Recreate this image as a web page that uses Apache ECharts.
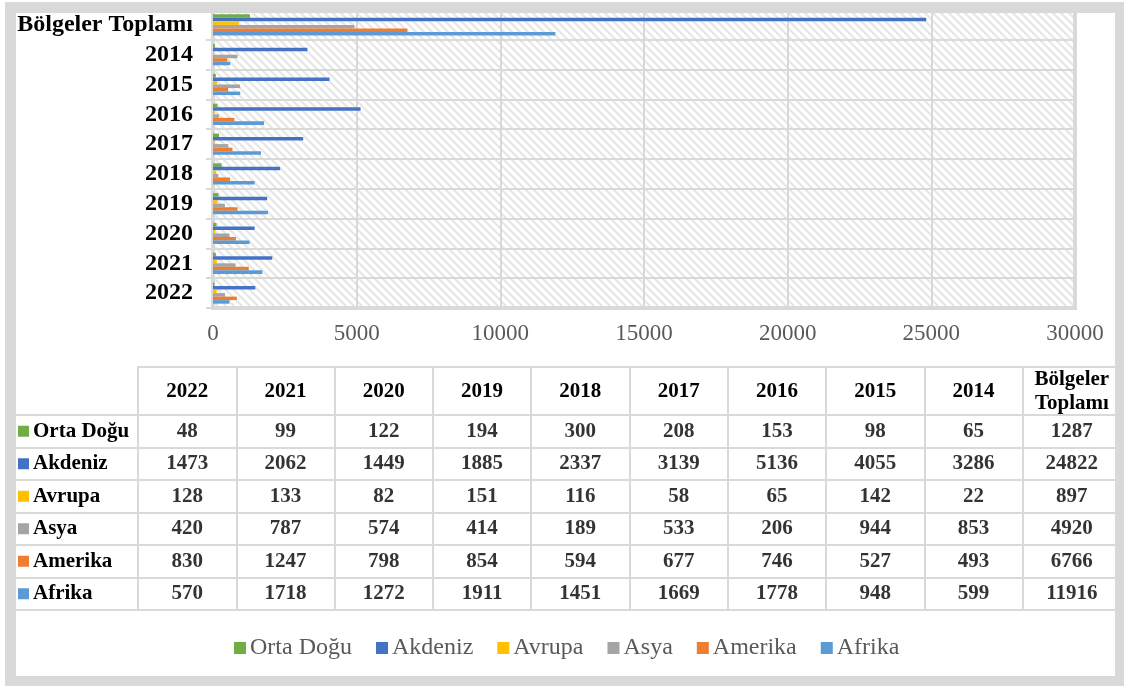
<!DOCTYPE html>
<html><head><meta charset="utf-8">
<script src="https://cdn.jsdelivr.net/npm/echarts@6/dist/echarts.min.js"></script>
<style>html,body{margin:0;padding:0;background:#fff}#c{width:1124px;height:686px}</style>
</head><body><div id="c"></div>
<script>
// Categories (bottom to top in chart; left to right in table)
const categories = ['2022','2021','2020','2019','2018','2017','2016','2015','2014','Bölgeler Toplamı'];
const tableHeaders = ['2022','2021','2020','2019','2018','2017','2016','2015','2014','Bölgeler\nToplamı'];
const seriesNames = ['Orta Doğu','Akdeniz','Avrupa','Asya','Amerika','Afrika'];
const ortaDogu = [48,99,122,194,300,208,153,98,65,1287];
const akdeniz  = [1473,2062,1449,1885,2337,3139,5136,4055,3286,24822];
const avrupa   = [128,133,82,151,116,58,65,142,22,897];
const asya     = [420,787,574,414,189,533,206,944,853,4920];
const amerika  = [830,1247,798,854,594,677,746,527,493,6766];
const afrika   = [570,1718,1272,1911,1451,1669,1778,948,599,11916];
const xMin = 0, xMax = 30000, xStep = 5000;

const colors = ['#70AD47','#4472C4','#FFC000','#A5A5A5','#ED7D31','#5B9BD5'];
const seriesData = [ortaDogu, akdeniz, avrupa, asya, amerika, afrika];
const FONT = 'Liberation Serif';
const GRID = '#d9d9d9';

// hatch pattern
const pc = document.createElement('canvas');
pc.width = 8; pc.height = 8;
const g = pc.getContext('2d');
g.fillStyle = '#fff'; g.fillRect(0,0,8,8);
g.strokeStyle = '#e6e6e6'; g.lineWidth = 2.2;
g.beginPath(); g.moveTo(-2,-2); g.lineTo(10,10); g.stroke();
g.beginPath(); g.moveTo(-10,-2); g.lineTo(2,10); g.stroke();
g.beginPath(); g.moveTo(6,-2); g.lineTo(18,10); g.stroke();

const rich = { name: { fontFamily: FONT, fontWeight: 'bold', fontSize: 21, color: '#000', padding: [0,0,0,4] } };
seriesNames.forEach((n,i)=>{ rich['sq'+i] = { backgroundColor: colors[i], width: 11, height: 11 }; });

const tableData = [];
seriesData.forEach((arr,r)=>arr.forEach((v,c)=>tableData.push([c, r, v])));

const barSeries = seriesNames.map((n,i)=>({
  name: n, type: 'bar', xAxisIndex: 0, yAxisIndex: 0,
  data: seriesData[i], itemStyle: { color: colors[i] },
  barGap: '0%', barCategoryGap: '29%', silent: true
}));

const chart = echarts.init(document.getElementById('c'), null, {renderer: 'canvas'});
chart.setOption({
  animation: false,
  textStyle: { fontFamily: FONT },
  legend: {
    data: seriesNames, left: 229, top: 631, icon: 'rect', itemWidth: 12, itemHeight: 12,
    itemGap: 24, textStyle: { fontFamily: FONT, fontSize: 24, color: '#595959', padding: [0,0,0,-1] }
  },
  grid: [
    { left: 213, right: 49, top: 10, bottom: 378, show: true, backgroundColor: { image: pc, repeat: 'repeat' }, borderColor: GRID, borderWidth: 4 },
    { left: 138, right: 3, top: 415, bottom: 76, show: true, backgroundColor: 'transparent', borderColor: GRID, borderWidth: 2 }
  ],
  xAxis: [
    { gridIndex: 0, type: 'value', min: xMin, max: xMax, interval: xStep,
      axisLine: { show: false }, axisTick: { show: false },
      axisLabel: { fontFamily: FONT, fontSize: 23, color: '#595959', margin: 14, formatter: v => String(v) },
      splitLine: { show: true, lineStyle: { color: GRID, width: 2 } } },
    { gridIndex: 1, type: 'category', data: tableHeaders, position: 'top',
      axisLine: { show: true, lineStyle: { color: GRID, width: 2 } },
      axisTick: { show: true, length: 48, lineStyle: { color: GRID, width: 2 } },
      axisLabel: { interval: 0, fontFamily: FONT, fontSize: 21, fontWeight: 'bold', color: '#000', margin: 23, verticalAlign: 'middle', lineHeight: 24 },
      splitLine: { show: true, lineStyle: { color: GRID, width: 2 } } },
    { gridIndex: 1, type: 'category', data: tableHeaders, position: 'top', offset: 48,
      axisLine: { show: true, lineStyle: { color: GRID, width: 2 } },
      axisTick: { show: false }, axisLabel: { show: false }, splitLine: { show: false } }
  ],
  yAxis: [
    { gridIndex: 0, type: 'category', data: categories,
      axisLine: { show: true, lineStyle: { color: GRID, width: 3 } },
      axisTick: { show: true, length: 7, interval: 0, lineStyle: { color: GRID, width: 2 } },
      axisLabel: { interval: 0, fontFamily: FONT, fontSize: 24, fontWeight: 'bold', color: '#000', margin: 20 },
      splitLine: { show: true, interval: 0, lineStyle: { color: GRID, width: 2 } } },
    { gridIndex: 1, type: 'category', data: seriesNames, inverse: true,
      axisLine: { show: true, lineStyle: { color: GRID, width: 2 } },
      axisTick: { show: true, length: 122, interval: 0, lineStyle: { color: GRID, width: 2 } },
      axisLabel: { interval: 0, align: 'left', margin: 120, rich: rich,
        formatter: (v, i) => '{sq' + i + '|}{name|' + v + '}' },
      splitLine: { show: true, interval: 0, lineStyle: { color: GRID, width: 2 } } }
  ],
  series: barSeries.concat([{
    name: 'tablo', type: 'scatter', xAxisIndex: 1, yAxisIndex: 1,
    data: tableData, symbolSize: 1, itemStyle: { color: 'rgba(0,0,0,0)' }, silent: true,
    label: { show: true, position: 'inside', formatter: p => String(p.value[2]),
      fontFamily: FONT, fontSize: 21, fontWeight: 'bold', color: '#000' }
  }]),
  graphic: [
    { type: 'rect', z: 100, shape: { x: 5, y: 2, width: 1119, height: 11 }, style: { fill: GRID } },
    { type: 'rect', z: 100, shape: { x: 5, y: 2, width: 11, height: 684 }, style: { fill: GRID } },
    { type: 'rect', z: 100, shape: { x: 1115, y: 2, width: 9, height: 684 }, style: { fill: GRID } },
    { type: 'rect', z: 100, shape: { x: 5, y: 676, width: 1119, height: 10 }, style: { fill: GRID } }
  ]
});
</script></body></html>
